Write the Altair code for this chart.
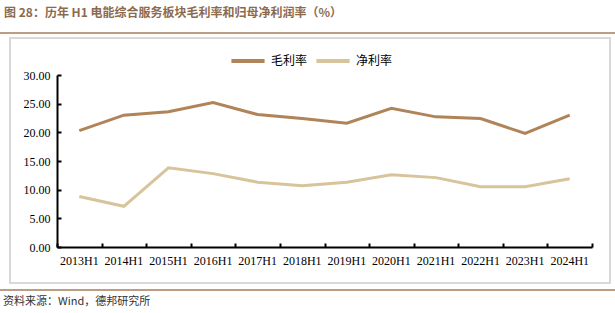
import altair as alt
import pandas as pd

years = ["2013H1", "2014H1", "2015H1", "2016H1", "2017H1", "2018H1",
         "2019H1", "2020H1", "2021H1", "2022H1", "2023H1", "2024H1"]
gross = [20.3, 23.0, 23.6, 25.2, 23.1, 22.4, 21.6, 24.2, 22.7, 22.4, 19.8, 23.0]
net = [8.8, 7.1, 13.8, 12.8, 11.3, 10.7, 11.3, 12.6, 12.1, 10.5, 10.5, 11.9]
series = ["毛利率", "净利率"]
colors = ["#B08458", "#D8C49A"]
y_ticks = [0, 5, 10, 15, 20, 25, 30]

title_text = "图 28：历年 H1 电能综合服务板块毛利率和归母净利润率（%）"
source_text = "资料来源：Wind，德邦研究所"

rows = []
for s, vals in zip(series, [gross, net]):
    for yr, v in zip(years, vals):
        rows.append({"year": yr, "value": v, "series": s})
df = pd.DataFrame(rows)
one = pd.DataFrame({"k": [0]})

W, H = 535, 172

xscale = alt.Scale(type="band", domain=years, paddingInner=0, paddingOuter=0)
yscale = alt.Scale(domain=[0, 30], nice=False)

lines = alt.Chart(df).mark_line(strokeWidth=3).encode(
    x=alt.X("year:N", scale=xscale, sort=years, title=None,
            axis=alt.Axis(orient="bottom", labelAngle=0, ticks=False,
                          domainColor="#000000", domainWidth=2,
                          labelFont="Liberation Serif", labelFontSize=12,
                          labelColor="#000000", labelPadding=8, grid=False)),
    y=alt.Y("value:Q", scale=yscale, title=None,
            axis=alt.Axis(orient="left", values=y_ticks, format=".2f", ticks=False,
                          domainColor="#000000", domainWidth=2,
                          labelFont="Liberation Serif", labelFontSize=12,
                          labelColor="#000000", labelPadding=7, grid=False)),
    color=alt.Color("series:N", scale=alt.Scale(domain=series, range=colors),
                    legend=alt.Legend(title=None, orient="none", direction="horizontal",
                                      legendX=172, legendY=-33,
                                      symbolType="stroke", symbolSize=1100,
                                      symbolStrokeWidth=4, labelFontSize=12,
                                      labelFont="Noto Sans CJK SC", labelColor="#000000",
                                      columnPadding=0, labelOffset=4, labelLimit=40)),
)

tick_layer = alt.Chart(df).mark_point(opacity=0).encode(
    x=alt.X("year:N", scale=xscale, sort=years, title=None,
            axis=alt.Axis(orient="top", offset=-H, labels=False, domain=False,
                          ticks=True, tickBand="extent", tickSize=4,
                          tickColor="#000000", tickWidth=2, grid=False)),
    y=alt.Y("value:Q", scale=yscale, title=None,
            axis=alt.Axis(orient="right", offset=-W, labels=False, domain=False,
                          values=y_ticks, ticks=True, tickSize=4,
                          tickColor="#000000", tickWidth=2, grid=False)),
)

box = alt.Chart(one).mark_rect(fill=None, stroke="#D9D9D9", strokeWidth=2).encode(
    x=alt.value(-47), x2=alt.value(553), y=alt.value(-37), y2=alt.value(208)
)
top_rule = alt.Chart(one).mark_rule(color="#A67C5A", strokeWidth=1.5).encode(
    x=alt.value(-57), x2=alt.value(558), y=alt.value(-42)
)
bottom_rule = alt.Chart(one).mark_rule(color="#A67C5A", strokeWidth=1.5).encode(
    x=alt.value(-57), x2=alt.value(558), y=alt.value(215)
)
title = alt.Chart(one).mark_text(align="left", baseline="middle", font="Noto Sans CJK SC",
                                 fontWeight="bold", fontSize=12, color="#8C6A4E").encode(
    x=alt.value(-53), y=alt.value(-62), text=alt.value(title_text)
)
source = alt.Chart(one).mark_text(align="left", baseline="middle", font="Noto Sans CJK SC",
                                  fontSize=11, color="#333333").encode(
    x=alt.value(-54), y=alt.value(227), text=alt.value(source_text)
)

chart = alt.layer(box, top_rule, bottom_rule, title, source, lines, tick_layer).resolve_axis(
    x="independent", y="independent"
).properties(
    width=W, height=H,
    autosize=alt.AutoSizeParams(type="none"),
    padding={"left": 57, "top": 75, "right": 23, "bottom": 66},
    background="#FFFFFF",
).configure_view(stroke=None)

chart.save("out.html", embed_options={"renderer": "svg", "actions": False})
